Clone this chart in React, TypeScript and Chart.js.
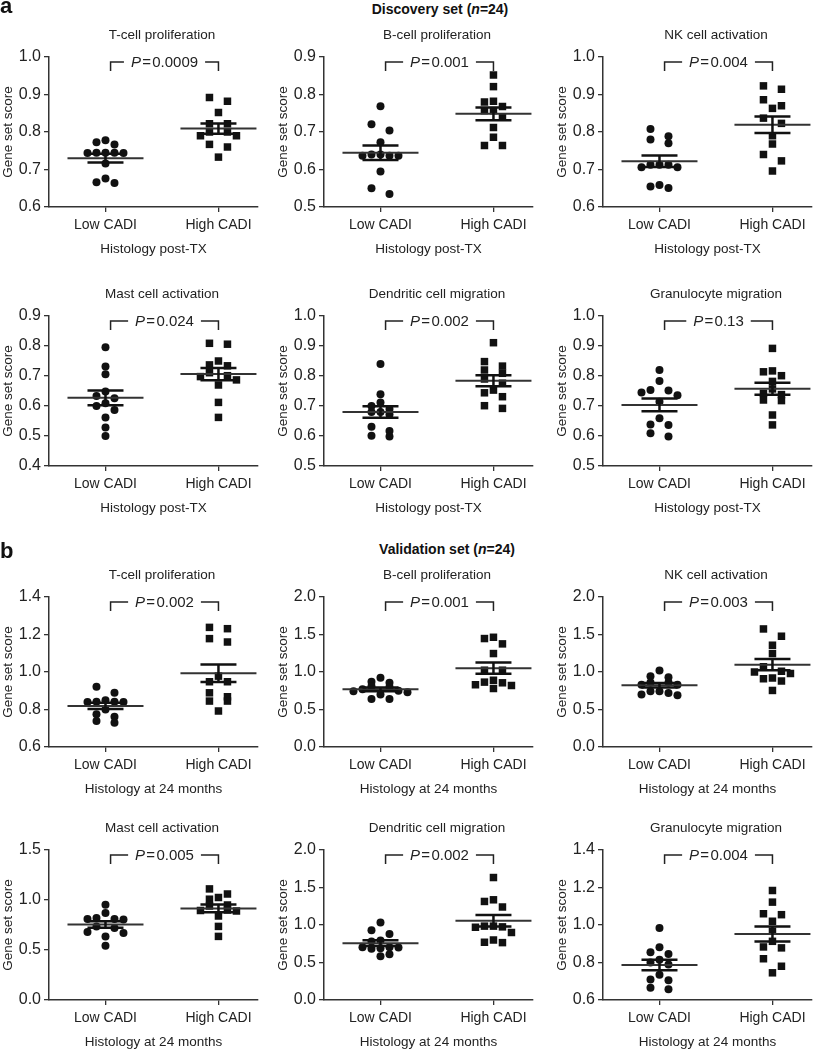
import React, { useEffect, useRef } from 'react';
import { Chart, registerables } from 'chart.js';
Chart.register(...registerables);

const FONT = '"Liberation Sans", Arial, Helvetica, sans-serif';
const INK = '#222';

// ---------- labels ----------
const groupLabels = ['Low CADI', 'High CADI'];
const panelTitles = [
  'T-cell proliferation',
  'B-cell proliferation',
  'NK cell activation',
  'Mast cell activation',
  'Dendritic cell migration',
  'Granulocyte migration',
];
const discoveryXTitle = 'Histology post-TX';
const validationXTitle = 'Histology at 24 months';
const yAxisTitle = 'Gene set score';

// ---------- discovery set (a) ----------
const discTcellLow = [0.778, 0.773, 0.767, 0.745, 0.744, 0.745, 0.744, 0.745, 0.716, 0.676, 0.664, 0.666];
const discTcellHigh = [0.892, 0.882, 0.852, 0.822, 0.822, 0.800, 0.800, 0.790, 0.790, 0.767, 0.760, 0.733];
const discBcellLow = [0.769, 0.721, 0.704, 0.673, 0.640, 0.637, 0.637, 0.637, 0.640, 0.595, 0.550, 0.535];
const discBcellHigh = [0.852, 0.821, 0.780, 0.782, 0.757, 0.768, 0.757, 0.740, 0.712, 0.686, 0.664, 0.664];
const discNkLow = [0.808, 0.789, 0.780, 0.770, 0.713, 0.706, 0.706, 0.713, 0.713, 0.659, 0.651, 0.655];
const discNkHigh = [0.923, 0.914, 0.886, 0.863, 0.870, 0.837, 0.823, 0.790, 0.768, 0.740, 0.723, 0.696];
const discMastLow = [0.796, 0.732, 0.706, 0.648, 0.633, 0.626, 0.609, 0.587, 0.600, 0.562, 0.528, 0.500];
const discMastHigh = [0.809, 0.806, 0.750, 0.734, 0.737, 0.711, 0.698, 0.687, 0.701, 0.670, 0.612, 0.562];
const discDendLow = [0.840, 0.739, 0.712, 0.700, 0.690, 0.680, 0.680, 0.672, 0.631, 0.617, 0.598, 0.601];
const discDendHigh = [0.911, 0.848, 0.833, 0.820, 0.809, 0.790, 0.776, 0.753, 0.744, 0.731, 0.701, 0.692];
const discGranLow = [0.820, 0.783, 0.752, 0.753, 0.745, 0.736, 0.714, 0.659, 0.638, 0.637, 0.609, 0.598];
const discGranHigh = [0.892, 0.817, 0.814, 0.801, 0.782, 0.757, 0.742, 0.738, 0.718, 0.720, 0.670, 0.637];
const discPValues = ['0.0009', '0.001', '0.004', '0.024', '0.002', '0.13'];
const discYMin = [0.6, 0.5, 0.6, 0.4, 0.5, 0.5];
const discYMax = [1.0, 0.9, 1.0, 0.9, 1.0, 1.0];
const discYStep = [0.1, 0.1, 0.1, 0.1, 0.1, 0.1];

// ---------- validation set (b) ----------
const valTcellLow = [0.921, 0.889, 0.840, 0.840, 0.842, 0.842, 0.850, 0.800, 0.762, 0.775, 0.730, 0.739];
const valTcellHigh = [1.238, 1.231, 1.178, 1.160, 0.978, 0.948, 0.948, 0.889, 0.868, 0.845, 0.845, 0.792];
const valBcellLow = [0.922, 0.856, 0.869, 0.800, 0.810, 0.770, 0.730, 0.745, 0.750, 0.700, 0.640, 0.640];
const valBcellHigh = [1.463, 1.446, 1.375, 1.246, 1.024, 1.024, 0.890, 0.856, 0.865, 0.820, 0.830, 0.780];
const valNkLow = [1.020, 0.945, 0.930, 0.860, 0.830, 0.830, 0.860, 0.745, 0.720, 0.700, 0.745, 0.690];
const valNkHigh = [1.574, 1.477, 1.357, 1.246, 1.000, 1.070, 1.010, 0.980, 0.920, 0.910, 0.880, 0.754];
const valMastLow = [0.952, 0.869, 0.810, 0.805, 0.810, 0.820, 0.736, 0.720, 0.670, 0.680, 0.636, 0.543];
const valMastHigh = [1.111, 1.060, 1.025, 1.008, 0.950, 0.940, 0.900, 0.895, 0.890, 0.840, 0.736, 0.636];
const valDendLow = [1.035, 0.929, 0.880, 0.795, 0.780, 0.705, 0.685, 0.690, 0.700, 0.705, 0.585, 0.610];
const valDendHigh = [1.633, 1.336, 1.314, 1.240, 0.975, 0.970, 0.985, 0.985, 0.900, 0.800, 0.765, 0.770];
const valGranLow = [0.984, 0.882, 0.855, 0.845, 0.815, 0.800, 0.790, 0.735, 0.710, 0.705, 0.665, 0.658];
const valGranHigh = [1.184, 1.122, 1.060, 1.055, 1.020, 0.967, 0.913, 0.878, 0.883, 0.820, 0.780, 0.745];
const valPValues = ['0.002', '0.001', '0.003', '0.005', '0.002', '0.004'];
const valYMin = [0.6, 0.0, 0.0, 0.0, 0.0, 0.6];
const valYMax = [1.4, 2.0, 2.0, 1.5, 2.0, 1.4];
const valYStep = [0.2, 0.5, 0.5, 0.5, 0.5, 0.2];

const discLow = [discTcellLow, discBcellLow, discNkLow, discMastLow, discDendLow, discGranLow];
const discHigh = [discTcellHigh, discBcellHigh, discNkHigh, discMastHigh, discDendHigh, discGranHigh];
const valLow = [valTcellLow, valBcellLow, valNkLow, valMastLow, valDendLow, valGranLow];
const valHigh = [valTcellHigh, valBcellHigh, valNkHigh, valMastHigh, valDendHigh, valGranHigh];

// ---------- layout ----------
const X_MIN = 0;
const X_MAX = 3.7;
const LOW_X = 1;
const HIGH_X = 3;
const Y_AXIS_W = 49;
const PLOT_W = 209;
const PLOT_H = 150;
const TOP_SPACE = 40;
const BOTTOM_SPACE = 50;
const CANVAS_H = TOP_SPACE + PLOT_H + BOTTOM_SPACE;
const SLOT_PX = 9;
const ROW_PX = 7.5;
const MEAN_HALF_PX = 38;
const SEM_HALF_PX = 18;
const colLefts = [0, 275, 554];
const colWidths = [275, 275, 276];
const plotTops = [57, 316, 597, 850];

function stats(v: number[]) {
  const n = v.length;
  const mean = v.reduce((a, b) => a + b, 0) / n;
  const sd = Math.sqrt(v.reduce((a, b) => a + (b - mean) * (b - mean), 0) / (n - 1));
  return { mean, sem: sd / Math.sqrt(n) };
}

function swarm(values: number[], center: number, slot: number, tol: number) {
  const idx = values.map((_, i) => i).sort((a, b) => values[b] - values[a]);
  const out: { x: number; y: number }[] = [];
  let i = 0;
  while (i < idx.length) {
    const start = values[idx[i]];
    const row = [idx[i]];
    let j = i + 1;
    while (j < idx.length && start - values[idx[j]] < tol) {
      row.push(idx[j]);
      j++;
    }
    const k = row.length;
    const slots: number[] = [];
    if (k % 2 === 1) {
      slots.push(0);
      for (let s = 1; slots.length < k; s++) {
        slots.push(-s);
        if (slots.length < k) slots.push(s);
      }
    } else {
      for (let s = 1; slots.length < k; s++) {
        slots.push(-s);
        slots.push(s);
      }
    }
    row.forEach((id, n) => out.push({ x: center + slots[n] * slot, y: values[id] }));
    i = j;
  }
  return out;
}

function seg(x0: number, x1: number, y0: number, y1: number, width: number, color: string) {
  return {
    type: 'line' as const,
    data: [
      { x: x0, y: y0 },
      { x: x1, y: y1 },
    ],
    borderColor: color,
    borderWidth: width,
    pointRadius: 0,
    showLine: true,
    fill: false,
    tension: 0,
    borderCapStyle: 'butt' as const,
  };
}

type PanelProps = {
  title: string;
  low: number[];
  high: number[];
  p: string;
  yMin: number;
  yMax: number;
  yStep: number;
  xTitle: string;
  left: number;
  top: number;
  width: number;
};

function Panel(props: PanelProps) {
  const ref = useRef<HTMLCanvasElement>(null);
  useEffect(() => {
    const { title, low, high, p, yMin, yMax, yStep, xTitle, width } = props;
    const unitPx = PLOT_W / (X_MAX - X_MIN);
    const slot = SLOT_PX / unitPx;
    const tol = ((yMax - yMin) * ROW_PX) / PLOT_H;
    const meanHalf = MEAN_HALF_PX / unitPx;
    const semHalf = SEM_HALF_PX / unitPx;
    const sl = stats(low);
    const sh = stats(high);
    const lineSets: any[] = [];
    [
      { c: LOW_X, s: sl },
      { c: HIGH_X, s: sh },
    ].forEach(({ c, s }) => {
      lineSets.push(seg(c - semHalf, c + semHalf, s.mean + s.sem, s.mean + s.sem, 2.5, '#111'));
      lineSets.push(seg(c - semHalf, c + semHalf, s.mean - s.sem, s.mean - s.sem, 2.5, '#111'));
      lineSets.push(seg(c, c, s.mean - s.sem, s.mean + s.sem, 2.5, '#111'));
      lineSets.push(seg(c - meanHalf, c + meanHalf, s.mean, s.mean, 2, '#333'));
    });

    const annotate = {
      id: 'annotate',
      afterDraw(chart: any) {
        const { ctx } = chart;
        const xs = chart.scales.x;
        const ys = chart.scales.y;
        ctx.save();
        // panel title, centred between the two groups
        const xc = (xs.getPixelForValue(LOW_X) + xs.getPixelForValue(HIGH_X)) / 2;
        ctx.fillStyle = INK;
        ctx.textBaseline = 'middle';
        ctx.textAlign = 'center';
        ctx.font = `13.5px ${FONT}`;
        ctx.fillText(title, xc, ys.top - 22);

        // significance bracket
        const yb = ys.top + 5;
        const xl = xs.getPixelForValue(LOW_X + 0.09);
        const xr = xs.getPixelForValue(HIGH_X);
        const xm = (xl + xr) / 2;
        const italic = `italic 15px ${FONT}`;
        const normal = `15px ${FONT}`;
        ctx.font = italic;
        const wP = ctx.measureText('P').width;
        ctx.font = normal;
        const rest = '\u200A=\u200A' + p;
        const wR = ctx.measureText(rest).width;
        const w = wP + wR;
        const gap = w / 2 + 7;
        ctx.strokeStyle = INK;
        ctx.lineWidth = 1.5;
        ctx.beginPath();
        ctx.moveTo(xl, yb + 9);
        ctx.lineTo(xl, yb);
        ctx.lineTo(xm - gap, yb);
        ctx.moveTo(xm + gap, yb);
        ctx.lineTo(xr, yb);
        ctx.lineTo(xr, yb + 9);
        ctx.stroke();
        ctx.textAlign = 'left';
        ctx.font = italic;
        ctx.fillText('P', xm - w / 2, yb + 0.5);
        ctx.font = normal;
        ctx.fillText(rest, xm - w / 2 + wP, yb + 0.5);
        ctx.restore();
      },
    };

    const chart = new Chart(ref.current as HTMLCanvasElement, {
      type: 'scatter',
      data: {
        datasets: [
          ...lineSets,
          {
            type: 'scatter',
            data: swarm(low, LOW_X, slot, tol),
            pointStyle: 'circle',
            pointRadius: 4,
            pointBackgroundColor: '#111',
            pointBorderWidth: 0,
            showLine: false,
          },
          {
            type: 'scatter',
            data: swarm(high, HIGH_X, slot, tol),
            pointStyle: 'rect',
            pointRadius: 5.3,
            pointBackgroundColor: '#111',
            pointBorderWidth: 0,
            showLine: false,
          },
        ],
      },
      options: {
        responsive: false,
        animation: false,
        devicePixelRatio: 1,
        layout: { padding: { left: 0, top: TOP_SPACE, bottom: 0, right: width - Y_AXIS_W - PLOT_W } },
        plugins: {
          legend: { display: false },
          tooltip: { enabled: false },
          title: { display: false },
        },
        scales: {
          x: {
            type: 'linear',
            min: X_MIN,
            max: X_MAX,
            afterBuildTicks: (s: any) => {
              s.ticks = [{ value: LOW_X }, { value: HIGH_X }];
            },
            afterFit: (s: any) => {
              s.height = BOTTOM_SPACE;
            },
            ticks: {
              autoSkip: false,
              maxRotation: 0,
              padding: 5,
              color: INK,
              font: { family: FONT, size: 14 },
              callback: (v: any) => (v === LOW_X ? groupLabels[0] : v === HIGH_X ? groupLabels[1] : ''),
            },
            grid: { drawOnChartArea: false, drawTicks: true, tickLength: 5, color: '#333', lineWidth: 1.3 },
            border: { display: true, color: '#333', width: 1.5 },
            title: {
              display: true,
              text: xTitle,
              color: INK,
              font: { family: FONT, size: 13.5 },
              padding: { top: 0, bottom: 0 },
            },
          },
          y: {
            type: 'linear',
            min: yMin,
            max: yMax,
            afterFit: (s: any) => {
              s.width = Y_AXIS_W;
            },
            ticks: {
              stepSize: yStep,
              padding: 3,
              color: INK,
              font: { family: FONT, size: 16 },
              callback: (v: any) => Number(v).toFixed(1),
            },
            grid: { drawOnChartArea: false, drawTicks: true, tickLength: 5, color: '#333', lineWidth: 1.3 },
            border: { display: true, color: '#333', width: 1.5 },
            title: {
              display: true,
              text: yAxisTitle,
              color: INK,
              font: { family: FONT, size: 13.5 },
              padding: { top: 0, bottom: 0 },
            },
          },
        },
      },
      plugins: [annotate],
    } as any);
    return () => chart.destroy();
  }, []);
  return (
    <canvas
      ref={ref}
      width={props.width}
      height={CANVAS_H}
      style={{ position: 'absolute', left: props.left, top: props.top, width: props.width, height: CANVAS_H }}
    />
  );
}

export default function App() {
  const panels: PanelProps[] = [];
  for (let i = 0; i < 6; i++) {
    const r = Math.floor(i / 3);
    const c = i % 3;
    panels.push({
      title: panelTitles[i],
      low: discLow[i],
      high: discHigh[i],
      p: discPValues[i],
      yMin: discYMin[i],
      yMax: discYMax[i],
      yStep: discYStep[i],
      xTitle: discoveryXTitle,
      left: colLefts[c],
      top: plotTops[r] - TOP_SPACE,
      width: colWidths[c],
    });
  }
  for (let i = 0; i < 6; i++) {
    const r = Math.floor(i / 3) + 2;
    const c = i % 3;
    panels.push({
      title: panelTitles[i],
      low: valLow[i],
      high: valHigh[i],
      p: valPValues[i],
      yMin: valYMin[i],
      yMax: valYMax[i],
      yStep: valYStep[i],
      xTitle: validationXTitle,
      left: colLefts[c],
      top: plotTops[r] - TOP_SPACE,
      width: colWidths[c],
    });
  }
  const head: React.CSSProperties = {
    position: 'absolute',
    fontFamily: FONT,
    fontWeight: 'bold',
    color: '#111',
    whiteSpace: 'nowrap',
  };
  return (
    <div style={{ position: 'absolute', left: 0, top: 0, width: 830, height: 1050, background: '#fff', overflow: 'hidden' }}>
      {panels.map((p, i) => (
        <Panel key={i} {...p} />
      ))}
      <div style={{ ...head, left: 0, top: -5, fontSize: 22, lineHeight: '22px' }}>a</div>
      <div style={{ ...head, left: 0, top: 540, fontSize: 22, lineHeight: '22px' }}>b</div>
      <div style={{ ...head, left: 340, width: 200, textAlign: 'center', top: 2, fontSize: 14, lineHeight: '14px' }}>
        Discovery set (<i>n</i>=24)
      </div>
      <div style={{ ...head, left: 347, width: 200, textAlign: 'center', top: 541.6, fontSize: 14, lineHeight: '14px' }}>
        Validation set (<i>n</i>=24)
      </div>
    </div>
  );
}
